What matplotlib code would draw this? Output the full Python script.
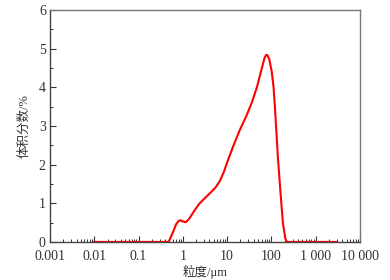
import numpy as np
import matplotlib
matplotlib.use("Agg")
import matplotlib.pyplot as plt
from matplotlib.ticker import FixedLocator, LogLocator, NullFormatter, MultipleLocator

plt.rcParams['font.family'] = ['Liberation Serif', 'Noto Sans CJK SC', 'DejaVu Sans']

# particle size (um) and volume fraction (%)
size_um = [0.01, 0.48, 0.6, 0.7, 0.8, 0.88, 1.0, 1.17, 1.4, 1.8, 2.4, 3.2, 4.1, 5.4,
           6.9, 8.5, 10.5, 14, 19.4, 27, 36, 47, 61, 70, 76, 82, 90, 102, 112, 120,
           140, 160, 182, 205, 224, 3000]
vol_pct = [0, 0, 0.25, 0.45, 0.54, 0.56, 0.53, 0.51, 0.6, 0.8, 1.0, 1.14, 1.26, 1.4,
           1.58, 1.82, 2.12, 2.5, 2.9, 3.25, 3.6, 4.0, 4.5, 4.76, 4.84, 4.83, 4.72, 4.4, 4.0, 3.5,
           2.2, 1.3, 0.49, 0.1, 0, 0]

xticks = [0.001, 0.01, 0.1, 1, 10, 100, 1000, 10000]
xlabels = ['0.001', '0.01', '0.1', '1', '10', '100', '1 000', '10 000']

fig = plt.figure(figsize=(3.9, 2.8), dpi=100)
ax = fig.add_axes([0.128, 0.136, 0.795, 0.828])

ax.plot(size_um, vol_pct, color='#ff0000', lw=1.5, solid_joinstyle='round')

ax.set_xscale('log')
ax.set_xlim(0.001, 10000)
ax.set_ylim(0, 6)
ax.xaxis.set_major_locator(FixedLocator(xticks))
ax.set_xticklabels(xlabels)
ax.xaxis.set_minor_locator(LogLocator(base=10, subs=np.arange(2, 10)))
ax.xaxis.set_minor_formatter(NullFormatter())
ax.yaxis.set_major_locator(MultipleLocator(1))
ax.yaxis.set_minor_locator(MultipleLocator(0.5))

ax.tick_params(which='both', direction='in', top=False, right=False,
               labelsize=10, colors='#333333')
ax.tick_params(axis='x', pad=6)
ax.tick_params(axis='y', pad=3)
ax.tick_params(which='major', length=4, width=0.8)
ax.tick_params(which='minor', length=2.5, width=0.7)

for s in ax.spines.values():
    s.set_color('#777777')
    s.set_linewidth(1.0)
ax.spines['left'].set_color('#444444')
ax.spines['bottom'].set_color('#444444')

ax.set_xlabel('粒度/μm', fontsize=9, color='#333333', labelpad=1)
ax.set_ylabel('体积分数/%', fontsize=9, color='#333333', labelpad=6)

fig.savefig('out.png', dpi=100)
